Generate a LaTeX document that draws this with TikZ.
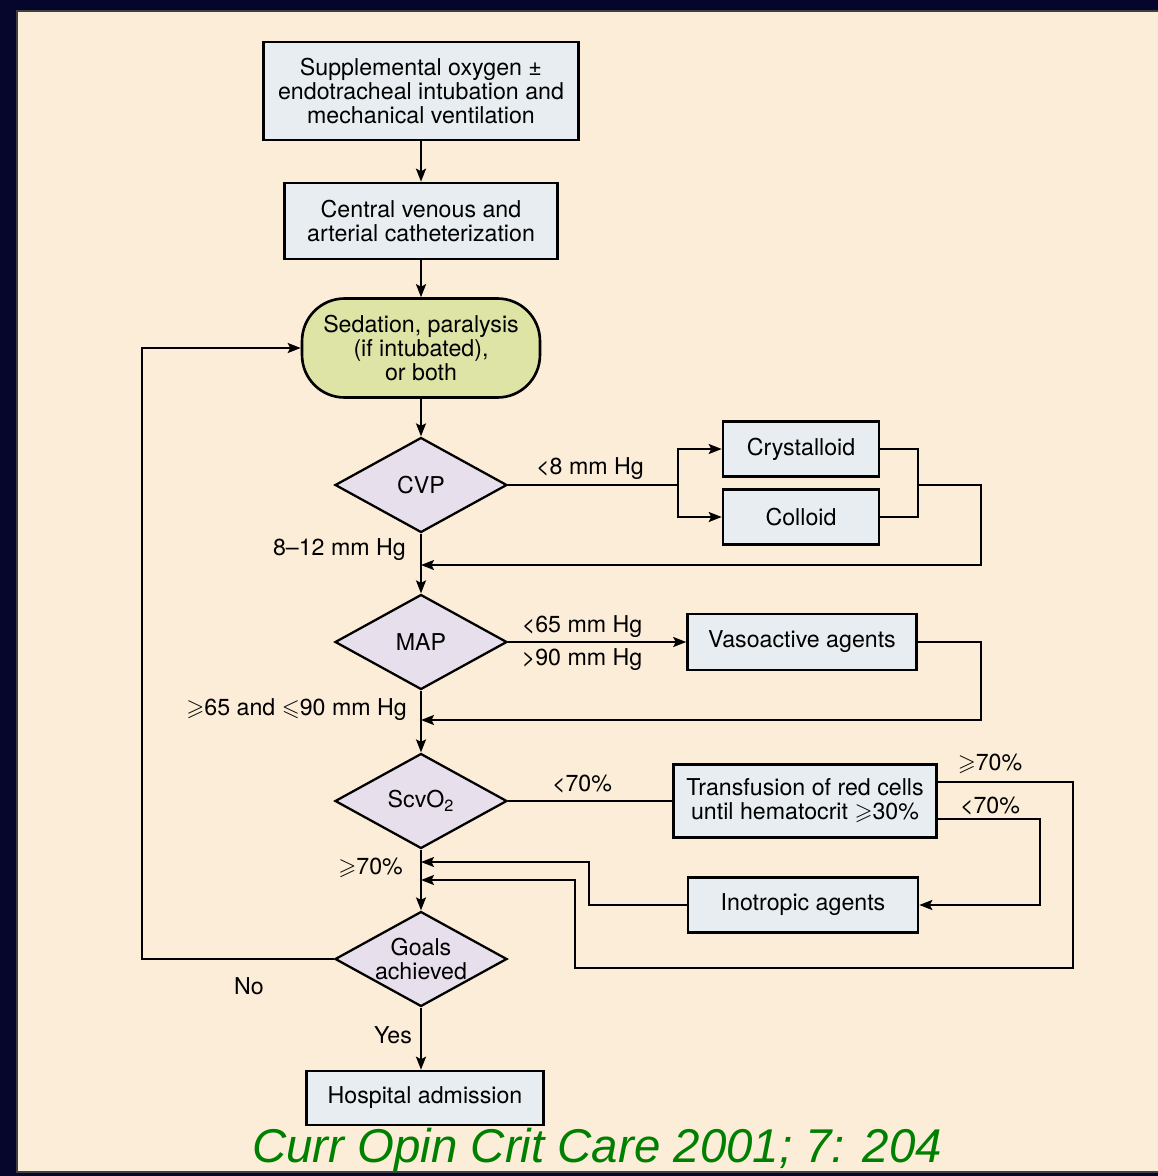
\documentclass[tikz,border=0pt]{standalone}
\usepackage{amsmath,amssymb}
\usepackage{fontspec}
\setmainfont{TeX Gyre Heros}
\newfontfamily\citefont{Liberation Sans}
\usetikzlibrary{arrows.meta,shapes.geometric}
\definecolor{navy}{RGB}{6,6,44}
\definecolor{panel}{RGB}{252,237,216}
\definecolor{boxfill}{RGB}{231,237,240}
\definecolor{decfill}{RGB}{231,224,236}
\definecolor{sedfill}{RGB}{222,228,166}
\definecolor{citegreen}{RGB}{0,128,0}

\begin{document}
\begin{tikzpicture}[x=0.02cm, y=-0.02cm, every node/.style={font=\fontsize{13.2}{13.7}\selectfont}, >={Stealth[length=2.6mm, width=2mm, inset=0.5mm]}, box/.style={draw, line width=1.5pt, fill=boxfill, align=center, inner sep=1pt}, dec/.style={draw, diamond, aspect=1.8, inner sep=0pt, line width=1.3pt, fill=decfill, minimum width=3.44cm, minimum height=1.9cm, align=center}, lnk/.style={line width=1.1pt}]
	\useasboundingbox (0,0) rectangle (1158,1176);
	\fill[navy] (0,0) rectangle (1158,1176);
	\filldraw[fill=panel, draw=black!75, line width=1.2pt] (17,11) rectangle (1172,1172);
	% main column
	\node[box, minimum width=6.3cm, minimum height=1.96cm] (oxy) at (421,91) {Supplemental oxygen ±\\endotracheal intubation and\\mechanical ventilation};
	\node[box, minimum width=5.46cm, minimum height=1.52cm] (cath) at (421,221) {Central venous and\\arterial catheterization};
	\node[box, rounded corners=0.85cm, fill=sedfill, minimum width=4.76cm, minimum height=1.98cm] (sed) at (421,348) {Sedation, paralysis\\(if intubated),\\or both};
	\node[dec] (cvp) at (421,485) {CVP};
	\node[dec] (map) at (421,642) {MAP};
	\node[dec] (scv) at (421,801) {ScvO\textsubscript{2}};
	\node[dec] (goal) at (421,959) {Goals\\achieved};
	\node[box, minimum width=4.74cm, minimum height=1.08cm] (hosp) at (425,1098) {Hospital admission};
	% side boxes
	\node[box, minimum width=3.12cm, minimum height=1.1cm] (cry) at (801,449) {Crystalloid};
	\node[box, minimum width=3.12cm, minimum height=1.1cm] (col) at (801,517) {Colloid};
	\node[box, minimum width=4.58cm, minimum height=1.12cm] (vaso) at (802,642) {Vasoactive agents};
	\node[box, minimum width=5.26cm, minimum height=1.46cm] (trans) at (805,801) {Transfusion of red cells\\until hematocrit $\geqslant$30\%};
	\node[box, minimum width=4.6cm, minimum height=1.1cm] (ino) at (803,905) {Inotropic agents};
	% corners of the loops
	\coordinate (spl) at (678,485); \coordinate (jn) at (918,485); \coordinate (r1) at (981,565); \coordinate (in1) at (421,565);
	\coordinate (r2) at (981,720); \coordinate (in2) at (421,720);
	\coordinate (r3) at (1073,968); \coordinate (r4) at (575,880); \coordinate (in4) at (421,880);
	\coordinate (r5) at (1040,905); \coordinate (r6) at (589,862); \coordinate (in6) at (421,862);
	\coordinate (r7) at (142,959);
	\draw[lnk, ->] (oxy) -- (cath);
	\draw[lnk, ->] (cath) -- (sed);
	\draw[lnk, ->] (sed) -- (cvp);
	\draw[lnk, ->] (cvp) -- (map);
	\draw[lnk, ->] (map) -- (scv);
	\draw[lnk, ->] (scv) -- (goal);
	\draw[lnk, ->] (goal.south) -- (goal.south |- hosp.north);
	\draw[lnk] (cvp) -- (spl);
	\draw[lnk, ->] (spl) |- (cry);
	\draw[lnk, ->] (spl) |- (col);
	\draw[lnk] (cry) -| (jn) |- (col);
	\draw[lnk, ->] (jn) -| (r1) -- (in1);
	\draw[lnk, ->] (map) -- (vaso);
	\draw[lnk, ->] (vaso) -| (r2) -- (in2);
	\draw[lnk] (scv) -- (trans);
	\draw[lnk, ->] ([yshift=0.38cm]trans.east) -| (r3) -| (r4) -- (in4);
	\draw[lnk, ->] ([yshift=-0.36cm]trans.east) -| (r5) -- (ino);
	\draw[lnk, ->] (ino) -| (r6) -- (in6);
	\draw[lnk, ->] (goal) -- (r7) |- (sed);
	% labels
	\node (l1) at (590,469) {<8 mm Hg};
	\node[anchor=east] (l2) at (412,550) {8--12 mm Hg};
	\node (l3) at (582,627) {<65 mm Hg};
	\node (l4) at (582,660) {>90 mm Hg};
	\node[anchor=east] (l5) at (413,710) {$\geqslant$65 and $\leqslant$90 mm Hg};
	\node (l6) at (582,784) {<70\%};
	\node (l7) at (990,764) {$\geqslant$70\%};
	\node (l8) at (990,806) {<70\%};
	\node[anchor=east] (l9) at (409,868) {$\geqslant$70\%};
	\node (no) at (249,986) {No};
	\node (yes) at (393,1035) {Yes};
	\node[font=\citefont\itshape\fontsize{27}{30}\selectfont, text=citegreen, anchor=base, inner sep=0pt] (cite) at (597,1162) {Curr Opin Crit Care 2001; 7: 204};
\end{tikzpicture}
\end{document}
